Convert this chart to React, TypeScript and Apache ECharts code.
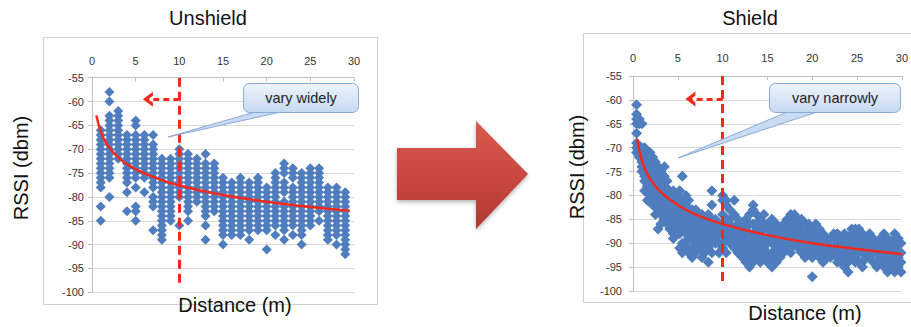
import React, { useEffect, useRef } from 'react';
import * as echarts from 'echarts';

// ---------- DATA ----------
const distanceMin = 0;
const distanceMax = 30;
const rssiMin = -100;
const rssiMax = -55;

// Unshield: diamonds stacked at integer distances
const unshieldDistances = [1, 2, 3, 4, 5, 6, 7, 8, 9, 10, 11, 12, 13, 14, 15, 16, 17, 18, 19, 20, 21, 22, 23, 24, 25, 26, 27, 28, 29];
const unshieldRssi: number[][] = [
  [-66, -67, -68, -69, -70, -71, -72, -73, -74, -75, -76, -77, -78, -82, -85],
  [-58, -60, -63, -64, -65, -66, -67, -68, -69, -70, -71, -72, -73, -74, -75, -76, -80],
  [-62, -63, -64, -65, -66, -67, -68, -69, -70, -71, -72],
  [-67, -68, -69, -70, -71, -72, -73, -74, -75, -76, -77, -79, -83],
  [-64, -65, -67, -68, -69, -70, -71, -72, -73, -74, -75, -76, -78, -82, -83, -85],
  [-67, -68, -69, -70, -71, -72, -73, -74, -75, -76, -79],
  [-67, -69, -70, -71, -72, -73, -74, -75, -76, -77, -78, -80, -81, -82, -87],
  [-72, -73, -74, -75, -76, -77, -78, -79, -80, -81, -82, -83, -84, -85, -86, -87, -88, -89],
  [-72, -73, -74, -75, -76, -77, -78, -79, -80, -81, -82, -83, -84, -85],
  [-70, -71, -72, -73, -74, -75, -76, -77, -78, -79, -80, -86],
  [-71, -72, -73, -74, -75, -76, -77, -78, -79, -80, -81, -82, -83, -85],
  [-72, -73, -74, -75, -76, -77, -78, -79, -80, -81],
  [-71, -73, -74, -75, -76, -77, -78, -79, -80, -81, -82, -83, -84, -86, -89],
  [-73, -74, -75, -76, -77, -78, -79, -80, -81, -82, -83],
  [-76, -77, -78, -79, -80, -81, -82, -83, -84, -85, -86, -87, -88, -90],
  [-77, -78, -79, -80, -81, -82, -83, -84, -85, -86, -87, -88],
  [-76, -77, -78, -79, -80, -81, -82, -83, -84, -85, -86, -87, -88],
  [-77, -78, -79, -80, -81, -82, -83, -84, -85, -86, -87, -89],
  [-76, -77, -78, -79, -80, -81, -82, -83, -84, -85, -86, -87],
  [-78, -79, -80, -81, -82, -83, -84, -85, -86, -87, -91],
  [-75, -76, -77, -78, -79, -80, -81, -82, -83, -84, -85, -86, -88],
  [-73, -74, -75, -77, -78, -79, -81, -82, -83, -84, -85, -86, -87, -89],
  [-74, -75, -76, -78, -79, -80, -81, -82, -83, -84, -85, -86, -88],
  [-75, -76, -77, -78, -79, -80, -81, -82, -83, -84, -85, -86, -87, -88, -90],
  [-74, -75, -76, -77, -78, -79, -80, -81, -82, -83, -84, -85, -86],
  [-74, -75, -76, -77, -78, -79, -80, -81, -82, -83, -85],
  [-78, -79, -80, -81, -82, -83, -84, -85, -86, -87, -88, -89],
  [-78, -79, -80, -81, -82, -83, -84, -85, -86, -87, -88, -90],
  [-79, -80, -81, -82, -83, -84, -85, -86, -87, -88, -89, -90, -91, -92],
];
const unshieldTrendX = [0.5, 1, 1.5, 2, 3, 4, 5, 7, 10, 15, 20, 25, 29.5];
const unshieldTrendY = [-62.9, -66.3, -68.3, -69.7, -71.7, -73.1, -74.2, -75.8, -77.6, -79.6, -81.0, -82.1, -82.9];

// Shield: scattered diamonds at non-integer distances
const shieldDistances = [
  0.4, 0.7, 1.0, 1.3, 1.6, 1.9, 2.2, 2.5, 2.8, 3.1, 3.5, 3.8, 4.1, 4.5, 4.8, 5.2, 5.5, 5.9, 6.2, 6.6,
  7.0, 7.3, 7.7, 8.0, 8.4, 8.8, 9.2, 9.6, 10.0, 10.4, 10.8, 11.3, 11.7, 12.2, 12.6, 13.0, 13.4, 13.8, 14.2, 14.6,
  15.0, 15.5, 16.0, 16.4, 16.8, 17.2, 17.6, 18.0, 18.4, 18.8, 19.2, 19.6, 20.0, 20.4, 20.8, 21.2, 21.6, 22.0, 22.4, 22.8,
  23.2, 23.6, 24.0, 24.4, 24.8, 25.2, 25.6, 26.0, 26.4, 26.8, 27.2, 27.6, 28.0, 28.4, 28.8, 29.2, 29.6, 29.9,
];
const shieldRssi: number[][] = [
  [-61, -63, -64, -65, -67, -69, -70, -71],
  [-64, -65, -70, -71, -72],
  [-65, -70, -71, -72, -73, -74, -75],
  [-70, -71, -72, -73, -74, -75, -76, -77, -79],
  [-71, -72, -73, -74, -75, -76, -78, -81],
  [-71, -72, -73, -74, -75, -77, -78, -79, -80],
  [-72, -73, -74, -75, -76, -77, -78, -80, -82],
  [-73, -74, -75, -76, -77, -79, -80, -81, -84],
  [-74, -75, -76, -78, -79, -80, -82, -83, -87],
  [-75, -76, -77, -79, -80, -81, -82, -84, -86],
  [-74, -76, -77, -78, -80, -82, -83, -85],
  [-77, -79, -80, -81, -82, -83, -84, -86],
  [-79, -80, -82, -83, -84, -85, -87],
  [-79, -81, -82, -83, -84, -86, -88, -89],
  [-80, -82, -83, -84, -85, -87, -88],
  [-79, -81, -83, -84, -85, -86, -88, -91],
  [-76, -81, -82, -84, -85, -86, -87, -90, -92],
  [-80, -82, -84, -85, -86, -88, -90, -91],
  [-81, -83, -85, -86, -87, -88, -89, -92],
  [-83, -84, -86, -87, -88, -89, -91, -93],
  [-83, -85, -86, -87, -88, -90, -92],
  [-84, -85, -87, -88, -89, -91],
  [-84, -86, -87, -88, -89, -91, -93],
  [-85, -86, -88, -89, -90, -91, -92],
  [-84, -86, -87, -89, -91, -94],
  [-79, -82, -85, -87, -88, -90, -92],
  [-85, -86, -87, -88, -89, -90],
  [-86, -87, -88, -90, -92],
  [-80, -81, -84, -86, -88, -90, -91],
  [-81, -82, -85, -87, -89, -92],
  [-83, -85, -86, -88, -90],
  [-81, -84, -87, -88, -89, -91],
  [-85, -86, -88, -89, -90, -92],
  [-86, -87, -89, -90, -91, -93],
  [-85, -87, -88, -90, -92, -94],
  [-84, -86, -88, -89, -91, -93, -95],
  [-82, -83, -86, -88, -90, -92, -94],
  [-84, -86, -87, -89, -91, -93],
  [-85, -86, -88, -90, -92, -94],
  [-84, -86, -87, -89, -91, -93],
  [-86, -87, -89, -90, -92, -94],
  [-85, -87, -88, -90, -92, -93, -95],
  [-86, -88, -89, -91, -92, -94],
  [-87, -88, -90, -91, -93],
  [-86, -88, -89, -91, -92],
  [-85, -87, -88, -90, -91],
  [-84, -86, -87, -89, -91, -92],
  [-84, -85, -87, -88, -90],
  [-85, -86, -88, -89, -91],
  [-85, -87, -88, -90, -92],
  [-86, -87, -89, -90, -91, -93],
  [-86, -88, -89, -91, -92],
  [-87, -88, -90, -91, -93, -97],
  [-86, -88, -89, -91, -92],
  [-87, -89, -90, -92, -93],
  [-88, -89, -91, -92, -94],
  [-89, -90, -91, -93],
  [-89, -91, -92, -93],
  [-88, -89, -91, -92],
  [-88, -90, -91, -93, -94],
  [-89, -90, -92, -93, -94],
  [-88, -90, -91, -93, -95],
  [-89, -91, -92, -94, -96],
  [-87, -88, -90, -92, -93],
  [-87, -89, -90, -91, -93, -94],
  [-87, -88, -90, -92, -94],
  [-88, -89, -91, -92, -94, -95],
  [-89, -90, -92, -93],
  [-88, -90, -91, -93],
  [-89, -91, -92, -94],
  [-90, -91, -92, -94, -95],
  [-89, -91, -93, -94],
  [-88, -90, -92, -93, -95],
  [-89, -91, -92, -94, -96],
  [-90, -91, -93, -95],
  [-88, -89, -91, -92, -94, -96],
  [-89, -90, -92, -93, -95],
  [-90, -92, -94, -96],
];
const shieldTrendX = [0.45, 1, 1.5, 2, 3, 4, 5, 7, 10, 15, 20, 25, 30];
const shieldTrendY = [-68.2, -72.8, -75.1, -76.8, -79.1, -80.7, -82.0, -84.0, -86.0, -88.3, -90.0, -91.2, -92.3];

// Annotations (data units)
const cutoffDistance = 10;
const cutoffBottom = -98;
const arrowTipDistance = 6.4;
const unshieldArrowRssi = -59.5;
const shieldArrowRssi = -59.8;

const chartTitles = ['Unshield', 'Shield'];
const calloutTexts = ['vary widely', 'vary narrowly'];
const xAxisTitle = 'Distance (m)';
const yAxisTitle = 'RSSI (dbm)';

// ---------- STYLE ----------
const FONT = '"Liberation Sans", Arial, Helvetica, sans-serif';
const RED = '#F5281C';
const BLUE = '#4F7DBE';
const CHEVRON = 'path://M0,100 L50,0 L100,100 L72,100 L50,50 L28,100 Z';

function toPoints(xs: number[], ys: number[][]) {
  const out: number[][] = [];
  xs.forEach((x, i) => ys[i].forEach((y) => out.push([x, y])));
  return out;
}
function toLine(xs: number[], ys: number[]) {
  return xs.map((x, i) => [x, ys[i]]);
}

function axisPair(idx: number, xMargin: number, yMargin: number) {
  return {
    x: {
      gridIndex: idx,
      type: 'value',
      position: 'top',
      min: distanceMin,
      max: distanceMax,
      interval: 5,
      axisLine: { show: true, onZero: false, lineStyle: { color: '#BFBFBF' } },
      axisTick: { show: true, inside: true, length: 4, lineStyle: { color: '#BFBFBF' } },
      splitLine: { show: false },
      axisLabel: { fontSize: 11, color: '#333', margin: xMargin, fontFamily: FONT },
    },
    y: {
      gridIndex: idx,
      type: 'value',
      min: rssiMin,
      max: rssiMax,
      interval: 5,
      axisLine: { show: true, onZero: false, lineStyle: { color: '#BFBFBF' } },
      axisTick: { show: true, length: 4, lineStyle: { color: '#BFBFBF' } },
      splitLine: { show: true, lineStyle: { color: '#D9D9D9', width: 1 } },
      axisLabel: { fontSize: 11, color: '#333', margin: yMargin, fontFamily: FONT },
    },
  };
}

function markLines(arrowY: number) {
  return {
    silent: true,
    symbol: ['none', 'none'],
    label: { show: false },
    animation: false,
    data: [
      [
        { coord: [cutoffDistance, rssiMax], symbol: 'none', lineStyle: { color: RED, width: 3, type: [9, 5] } },
        { coord: [cutoffDistance, cutoffBottom], symbol: 'none' },
      ],
      [
        { coord: [cutoffDistance, arrowY], symbol: 'none', lineStyle: { color: RED, width: 3, type: [6, 4] } },
        { coord: [arrowTipDistance, arrowY], symbol: CHEVRON, symbolSize: [15, 10], symbolKeepAspect: false },
      ],
    ],
  };
}

function callout(x: number, y: number, w: number, h: number, tail: number[][], text: string) {
  return [
    {
      type: 'polygon',
      z: 100,
      shape: { points: tail },
      style: { fill: '#C9DBF2', stroke: '#8AAAD6', lineWidth: 1 },
    },
    {
      type: 'rect',
      z: 101,
      shape: { x, y, width: w, height: h, r: 6 },
      style: {
        fill: { type: 'linear', x: 0, y: 0, x2: 0, y2: 1, colorStops: [{ offset: 0, color: '#EEF4FC' }, { offset: 1, color: '#C6D9F1' }] },
        stroke: '#8AAAD6',
        lineWidth: 1,
      },
    },
    {
      type: 'text',
      z: 102,
      x: x + w / 2,
      y: y + h / 2,
      style: { text, fill: '#222', font: `14.5px ${FONT}`, textAlign: 'center', textVerticalAlign: 'middle' },
    },
  ];
}

function label(text: string, x: number, y: number, size: number, rotate = 0) {
  return {
    type: 'text',
    z: 50,
    x,
    y,
    rotation: rotate,
    style: { text, fill: '#111', font: `${size}px ${FONT}`, textAlign: 'center', textVerticalAlign: 'middle' },
  };
}

export default function App() {
  const ref = useRef<HTMLDivElement>(null);
  useEffect(() => {
    if (!ref.current) return;
    const chart = echarts.init(ref.current, undefined, { renderer: 'svg' });
    const a0 = axisPair(0, 11, 8);
    const a1 = axisPair(1, 13, 11);
    const option: any = {
      animation: false,
      backgroundColor: '#fff',
      grid: [
        { left: 92, top: 77.7, width: 262, height: 214.6 },
        { left: 633, top: 76, width: 270, height: 215 },
      ],
      xAxis: [a0.x, a1.x],
      yAxis: [a0.y, a1.y],
      series: [
        {
          type: 'scatter',
          xAxisIndex: 0,
          yAxisIndex: 0,
          symbol: 'diamond',
          symbolSize: [10, 10],
          itemStyle: { color: BLUE, opacity: 1 },
          data: toPoints(unshieldDistances, unshieldRssi),
          z: 2,
        },
        {
          type: 'line',
          xAxisIndex: 0,
          yAxisIndex: 0,
          smooth: true,
          showSymbol: false,
          symbol: 'none',
          lineStyle: { color: RED, width: 2.5 },
          data: toLine(unshieldTrendX, unshieldTrendY),
          z: 3,
          markLine: markLines(unshieldArrowRssi),
        },
        {
          type: 'scatter',
          xAxisIndex: 1,
          yAxisIndex: 1,
          symbol: 'diamond',
          symbolSize: 11,
          itemStyle: { color: BLUE, opacity: 1 },
          data: toPoints(shieldDistances, shieldRssi),
          z: 2,
        },
        {
          type: 'line',
          xAxisIndex: 1,
          yAxisIndex: 1,
          smooth: true,
          showSymbol: false,
          symbol: 'none',
          lineStyle: { color: RED, width: 2.5 },
          data: toLine(shieldTrendX, shieldTrendY),
          z: 3,
          markLine: markLines(shieldArrowRssi),
        },
      ],
      graphic: [
        { type: 'rect', z: -10, shape: { x: 43.5, y: 37.5, width: 334, height: 267 }, style: { fill: 'none', stroke: '#D0D0D0', lineWidth: 1 } },
        { type: 'rect', z: -10, shape: { x: 583.5, y: 33.5, width: 340, height: 269 }, style: { fill: 'none', stroke: '#D0D0D0', lineWidth: 1 } },
        label(chartTitles[0], 208, 18, 20),
        label(chartTitles[1], 750, 18, 20),
        label(yAxisTitle, 21, 168, 20, Math.PI / 2),
        label(yAxisTitle, 577, 167, 20, Math.PI / 2),
        label(xAxisTitle, 235, 305, 20),
        label(xAxisTitle, 805, 313, 20),
        ...callout(243.5, 83.5, 115, 29, [[262, 110], [290, 110], [168, 137]], calloutTexts[0]),
        ...callout(769.5, 83.5, 131, 29, [[792, 110], [823, 110], [678, 158]], calloutTexts[1]),
        {
          type: 'polygon',
          z: 20,
          shape: { points: [[397, 148], [476, 148], [476, 121], [528, 174], [476, 229], [476, 200], [397, 200]] },
          style: {
            fill: { type: 'linear', x: 0, y: 0, x2: 0, y2: 1, colorStops: [{ offset: 0, color: '#D9594D' }, { offset: 0.5, color: '#C94840' }, { offset: 1, color: '#B03A32' }] },
            shadowBlur: 4,
            shadowOffsetY: 2,
            shadowColor: 'rgba(0,0,0,0.3)',
          },
        },
      ],
    };
    chart.setOption(option);
    return () => chart.dispose();
  }, []);
  return <div ref={ref} style={{ position: 'fixed', left: 0, top: 0, width: 911, height: 327 }} />;
}
